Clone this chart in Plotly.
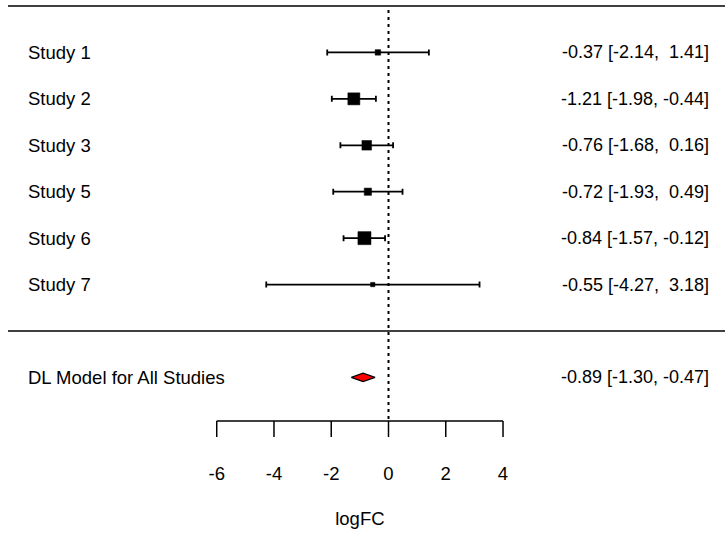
import plotly.graph_objects as go
import numpy as np

# ---- data ----
studies = ["Study 1", "Study 2", "Study 3", "Study 5", "Study 6", "Study 7"]
est = [-0.37, -1.21, -0.76, -0.72, -0.84, -0.55]
ci_lo = [-2.14, -1.98, -1.68, -1.93, -1.57, -4.27]
ci_hi = [1.41, -0.44, 0.16, 0.49, -0.12, 3.18]
summary_label = "DL Model for All Studies"
summary_est = -0.89
summary_lo = -1.30
summary_hi = -0.47
tick_vals = [-6, -4, -2, 0, 2, 4]
x_label = "logFC"

# ---- layout helpers ----
PX_PER_ROW = 46.43
PX_PER_UNIT = 28.63
ROW0_PX = 331.0
ZERO_PX = 388.5
W, H = 725, 535

def row_of(px):
    return (ROW0_PX - px) / PX_PER_ROW

def x_of(px):
    return (px - ZERO_PX) / PX_PER_UNIT

k = len(studies)
rows = list(range(k, 0, -1))
sum_row = -1
axis_row = row_of(421)
FONT = dict(family="Liberation Sans, Arial, sans-serif", size=18.5, color="black")
NUMFONT = dict(family="Liberation Sans, Arial, sans-serif", size=18, color="black")

# weights -> square sizes (metafor style)
est_a = np.array(est); lo_a = np.array(ci_lo); hi_a = np.array(ci_hi)
se = (hi_a - lo_a) / (2 * 1.959964)
w = 1 / se**2
w = w / w.sum()
psize = (w - w.min()) / (w.max() - w.min()) + 0.5
sizes = psize * 8.7

def fmt(v):
    return f"{v:5.2f}".replace(" ", "\u00a0")

fig = go.Figure()

# top and separator lines
xl, xr = x_of(8), x_of(730)
fig.add_trace(go.Scatter(x=[xl, xr, None, xl, xr], y=[k + 1, k + 1, None, 0, 0],
                         mode="lines", line=dict(color="black", width=1.5),
                         hoverinfo="skip", showlegend=False))

# reference dotted line
fig.add_trace(go.Scatter(x=[0, 0], y=[row_of(10), axis_row], mode="lines",
                         line=dict(color="black", width=2, dash="3px,4px"),
                         hoverinfo="skip", showlegend=False))

# study CIs
fig.add_trace(go.Scatter(
    x=est, y=rows, mode="markers",
    marker=dict(symbol="square", size=1, color="black", opacity=0),
    error_x=dict(type="data", symmetric=False,
                 array=list(hi_a - est_a), arrayminus=list(est_a - lo_a),
                 color="black", thickness=1.8, width=3),
    hoverinfo="skip", showlegend=False))
# study squares
fig.add_trace(go.Scatter(
    x=est, y=rows, mode="markers",
    marker=dict(symbol="square", size=sizes, color="#000000", opacity=1,
                line=dict(width=0.5, color="#000000")),
    showlegend=False))

# summary diamond
dh = 0.09
fig.add_trace(go.Scatter(
    x=[summary_lo, summary_est, summary_hi, summary_est, summary_lo],
    y=[sum_row, sum_row + dh, sum_row, sum_row - dh, sum_row],
    mode="lines", fill="toself", fillcolor="red",
    line=dict(color="black", width=1.2), showlegend=False))

# x axis (drawn in data coords)
fig.add_trace(go.Scatter(x=[tick_vals[0], tick_vals[-1]], y=[axis_row, axis_row],
                         mode="lines", line=dict(color="black", width=1.5),
                         hoverinfo="skip", showlegend=False))
tx, ty = [], []
tick_len = 16 / PX_PER_ROW
for t in tick_vals:
    tx += [t, t, None]
    ty += [axis_row, axis_row - tick_len, None]
fig.add_trace(go.Scatter(x=tx, y=ty, mode="lines", line=dict(color="black", width=1.5),
                         hoverinfo="skip", showlegend=False))
fig.add_trace(go.Scatter(x=tick_vals, y=[row_of(475)] * len(tick_vals), mode="text",
                         text=[str(t) for t in tick_vals], textfont=FONT,
                         textposition="middle center", hoverinfo="skip", showlegend=False))
fig.add_trace(go.Scatter(x=[(tick_vals[0] + tick_vals[-1]) / 2], y=[row_of(520)], mode="text",
                         text=[x_label], textfont=FONT, textposition="middle center",
                         hoverinfo="skip", showlegend=False))

# labels
ann = []
for s, r, e, l, h in zip(studies, rows, est, ci_lo, ci_hi):
    ann.append(dict(x=x_of(26), y=r, text=s, xanchor="left", yanchor="middle",
                    showarrow=False, font=FONT))
    ann.append(dict(x=x_of(711), y=r, text=f"{fmt(e)} [{fmt(l)}, {fmt(h)}]",
                    xanchor="right", yanchor="middle", showarrow=False, font=NUMFONT))
ann.append(dict(x=x_of(26), y=sum_row, text=summary_label, xanchor="left", yanchor="middle",
                showarrow=False, font=FONT))
ann.append(dict(x=x_of(711), y=sum_row,
                text=f"{fmt(summary_est)} [{fmt(summary_lo)}, {fmt(summary_hi)}]",
                xanchor="right", yanchor="middle", showarrow=False, font=NUMFONT))

fig.update_layout(
    template="none",
    width=W, height=H, margin=dict(l=0, r=0, t=0, b=0),
    paper_bgcolor="white", plot_bgcolor="white",
    xaxis=dict(range=[x_of(0), x_of(W)], visible=False, fixedrange=True),
    yaxis=dict(range=[row_of(H), row_of(0)], visible=False, fixedrange=True),
    annotations=ann, font=FONT,
)

fig.write_html("out.html")
